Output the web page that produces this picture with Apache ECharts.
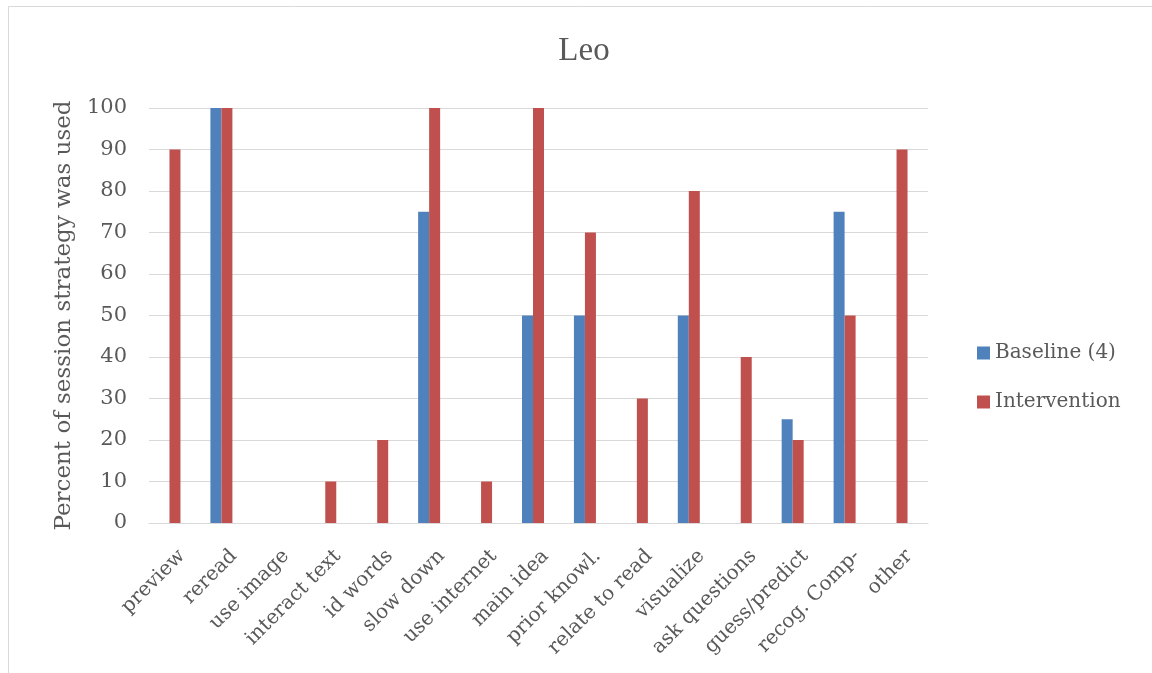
<!DOCTYPE html>
<html>
<head>
<meta charset="utf-8">
<title>Leo</title>
<script src="https://cdn.jsdelivr.net/npm/echarts@6/dist/echarts.min.js"></script>
<style>
  html, body { margin: 0; padding: 0; background: #ffffff; }
  #chart { width: 1152px; height: 673px; }
</style>
</head>
<body>
<div id="chart"></div>
<script>
// Reading strategies observed per session
const categories = [
  'preview', 'reread', 'use image', 'interact text', 'id words', 'slow down',
  'use internet', 'main idea', 'prior knowl.', 'relate to read', 'visualize',
  'ask questions', 'guess/predict', 'recog. Comp-', 'other'
];
const baseline = [0, 100, 0, 0, 0, 75, 0, 50, 50, 0, 50, 0, 25, 75, 0];
const intervention = [90, 100, 0, 10, 20, 100, 10, 100, 70, 30, 80, 40, 20, 50, 90];
// empty third slot in each cluster (no values recorded)
const spare = categories.map(() => null);
const yTicks = { min: 0, max: 100, interval: 10 };

const textColor = '#595959';
const gridColor = '#D9D9D9';
const serif = '"DejaVu Serif", serif';

const chart = echarts.init(document.getElementById('chart'), null, { renderer: 'canvas' });
chart.setOption({
  backgroundColor: '#ffffff',
  animation: false,
  graphic: [{
    type: 'rect',
    shape: { x: 8.5, y: 6.5, width: 1160, height: 700 },
    style: { fill: 'none', stroke: gridColor, lineWidth: 1 },
    silent: true
  }],
  title: {
    text: 'Leo',
    left: 579,
    top: 30,
    textAlign: 'center',
    textStyle: { fontFamily: '"Liberation Serif", serif', fontSize: 33, fontWeight: 'normal', color: textColor }
  },
  legend: {
    data: ['Baseline (4)', 'Intervention'],
    orient: 'vertical',
    left: 972,
    top: 338,
    icon: 'rect',
    itemWidth: 13,
    itemHeight: 13,
    itemGap: 29,
    textStyle: { fontFamily: serif, fontSize: 20, color: textColor }
  },
  grid: { left: 149, right: 224, top: 108, bottom: 150, containLabel: false },
  xAxis: {
    type: 'category',
    data: categories,
    axisLine: { lineStyle: { color: gridColor, width: 1 } },
    axisTick: { show: false },
    axisLabel: {
      rotate: 45,
      interval: 0,
      margin: 23,
      verticalAlign: 'top',
      fontFamily: serif,
      fontSize: 20,
      color: textColor
    }
  },
  yAxis: {
    type: 'value',
    min: yTicks.min,
    max: yTicks.max,
    interval: yTicks.interval,
    name: 'Percent of session strategy was used',
    nameLocation: 'middle',
    nameGap: 72,
    nameTextStyle: { fontFamily: serif, fontSize: 23, color: textColor },
    axisLine: { show: false },
    axisTick: { show: false },
    splitLine: { lineStyle: { color: gridColor, width: 1 } },
    axisLabel: { margin: 22, fontFamily: serif, fontSize: 21, color: textColor }
  },
  series: [
    {
      name: 'Baseline (4)',
      type: 'bar',
      data: baseline,
      barWidth: 11,
      barGap: '0%',
      itemStyle: { color: '#4F81BD' }
    },
    {
      name: 'Intervention',
      type: 'bar',
      data: intervention,
      barWidth: 11,
      barGap: '0%',
      itemStyle: { color: '#C0504D' }
    },
    {
      name: 'spare',
      type: 'bar',
      data: spare,
      barWidth: 11,
      barGap: '0%',
      itemStyle: { color: '#9BBB59' }
    }
  ]
});
</script>
</body>
</html>
